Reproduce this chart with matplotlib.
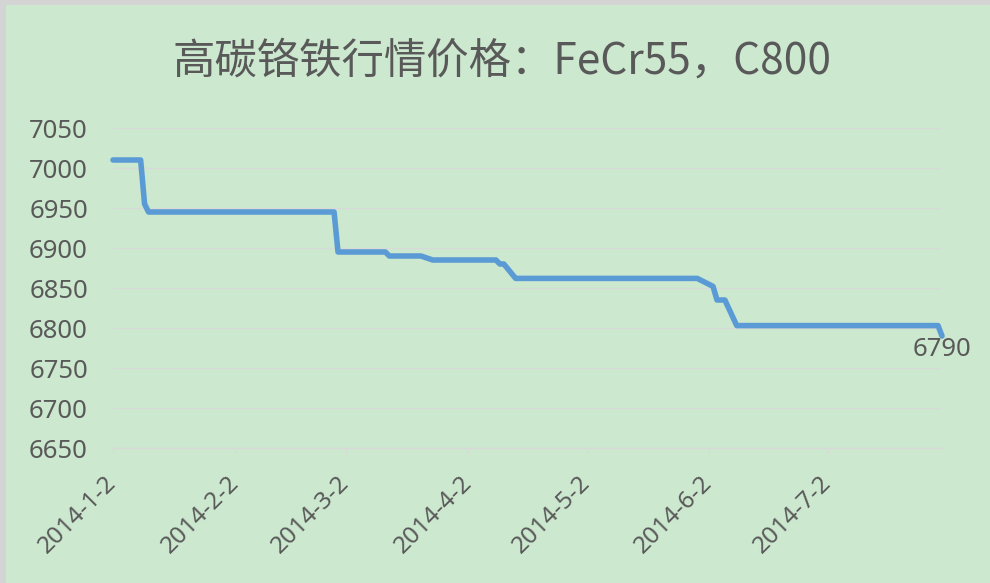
import matplotlib
matplotlib.use("Agg")
import matplotlib.pyplot as plt
import matplotlib.dates as mdates
from matplotlib.patches import Rectangle
from datetime import date

plt.rcParams['font.family'] = ['Noto Sans CJK SC', 'DejaVu Sans']

# ---- data ----
dates = ["2014-01-02", "2014-01-09", "2014-01-10", "2014-01-11",
         "2014-02-27", "2014-02-28", "2014-03-12", "2014-03-13",
         "2014-03-21", "2014-03-24", "2014-04-09", "2014-04-10",
         "2014-04-11", "2014-04-14", "2014-05-30", "2014-06-03",
         "2014-06-04", "2014-06-06", "2014-06-09", "2014-07-30",
         "2014-07-31"]
prices = [7010, 7010, 6955, 6945,
          6945, 6895, 6895, 6890,
          6890, 6885, 6885, 6880,
          6880, 6862, 6862, 6852,
          6835, 6835, 6803, 6803,
          6790]
tick_dates = ["2014-01-02", "2014-02-02", "2014-03-02", "2014-04-02",
              "2014-05-02", "2014-06-02", "2014-07-02"]
tick_labels = ["2014-1-2", "2014-2-2", "2014-3-2", "2014-4-2",
               "2014-5-2", "2014-6-2", "2014-7-2"]
y_ticks = [6650, 6700, 6750, 6800, 6850, 6900, 6950, 7000, 7050]
title = "高碳铬铁行情价格：FeCr55，C800"
last_label = "6790"

# ---- styling ----
BG = "#cce8cf"
TXT = "#595959"
GRID = "#d9d9d9"
LINE = "#5b9bd5"
TICKFONT = ["Noto Sans", "DejaVu Sans"]

def to_num(s):
    y, m, d = map(int, s.split("-"))
    return mdates.date2num(date(y, m, d))

xs = [to_num(d) for d in dates]
txs = [to_num(d) for d in tick_dates]

fig = plt.figure(figsize=(9.9, 5.83), dpi=100, facecolor=BG)
# grey frame strips at left/top
fig.patches.append(Rectangle((0, 0), 6 / 990, 1, transform=fig.transFigure,
                             facecolor="#d4d4d4", edgecolor="none", zorder=0))
fig.patches.append(Rectangle((0, 1 - 5 / 583), 1, 5 / 583, transform=fig.transFigure,
                             facecolor="#d4d4d4", edgecolor="none", zorder=0))

ax = fig.add_axes([113 / 990, 1 - 448 / 583, (942 - 113) / 990, (448 - 128) / 583])
ax.set_facecolor(BG)

ax.plot(xs, prices, color=LINE, lw=4.0, solid_joinstyle="round",
        solid_capstyle="round", zorder=3, clip_on=False)

ax.set_xlim(to_num("2014-01-02"), to_num("2014-07-31"))
ax.set_ylim(6650, 7050)
ax.set_yticks(y_ticks)
ax.set_yticklabels([str(v) for v in y_ticks])
ax.set_xticks(txs)
ax.set_xticklabels(tick_labels, rotation=45, ha="right", va="center",
                   rotation_mode="anchor")

ax.grid(axis="y", color=GRID, lw=0.9, zorder=1)
for s in ["left", "right", "top"]:
    ax.spines[s].set_visible(False)
ax.spines["bottom"].set_color(GRID)
ax.spines["bottom"].set_linewidth(1.0)

ax.tick_params(axis="y", length=0, pad=18, labelsize=18.5, labelcolor=TXT)
ax.tick_params(axis="x", length=3.5, width=1, color=GRID, pad=19,
               labelsize=17.5, labelcolor=TXT)
for lab in ax.get_xticklabels() + ax.get_yticklabels():
    lab.set_family(TICKFONT)

ax.annotate(last_label, (xs[-1], prices[-1]), xytext=(0, -1),
            textcoords="offset points", ha="center", va="top",
            fontsize=18.5, color=TXT, family=TICKFONT)

fig.text(502 / 990, 1 - 62 / 583, title, ha="center", va="center",
         fontsize=30.5, color=TXT)

fig.savefig("out.png", dpi=100, facecolor=BG)
